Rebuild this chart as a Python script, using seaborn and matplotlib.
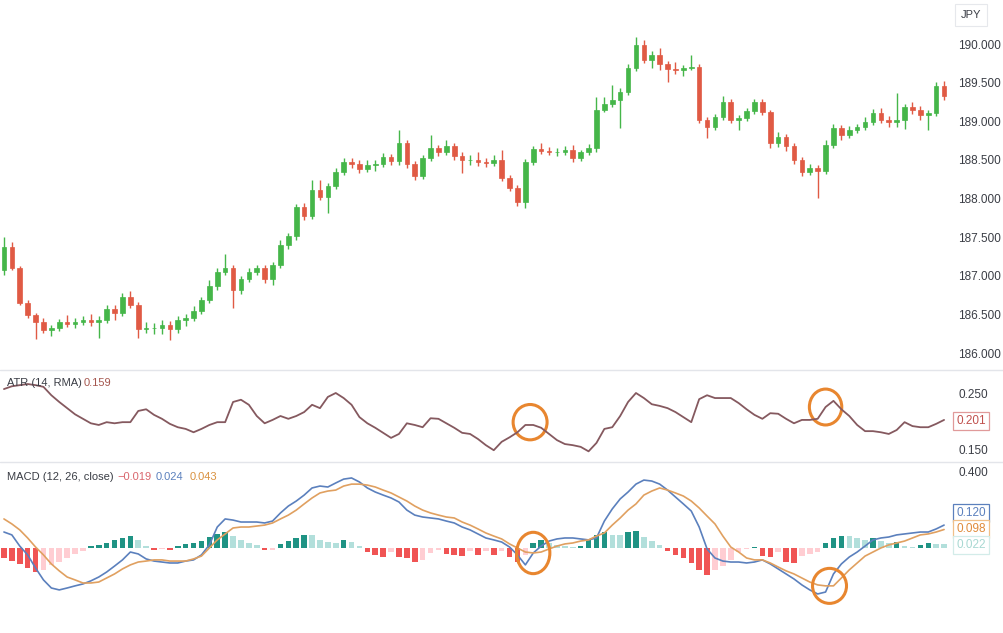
import numpy as np
import matplotlib
matplotlib.use("Agg")
import matplotlib.pyplot as plt
from matplotlib.patches import Ellipse
from matplotlib.lines import Line2D
import seaborn as sns

# price bars (JPY)
opens = [187.07, 187.37, 187.10, 186.65, 186.49, 186.40, 186.30, 186.32, 186.40, 186.37,
         186.40, 186.43, 186.40, 186.43, 186.57, 186.52, 186.72, 186.62, 186.31, 186.32,
         186.32, 186.36, 186.31, 186.43, 186.45, 186.54, 186.68, 186.87, 187.05, 187.10,
         186.81, 186.96, 187.05, 187.10, 186.96, 187.14, 187.40, 187.51, 187.89, 187.77,
         188.11, 188.02, 188.16, 188.34, 188.47, 188.45, 188.38, 188.43, 188.45, 188.54,
         188.48, 188.72, 188.45, 188.29, 188.52, 188.65, 188.60, 188.68, 188.55, 188.50,
         188.50, 188.47, 188.46, 188.50, 188.26, 188.13, 187.95, 188.47, 188.64, 188.61,
         188.60, 188.60, 188.63, 188.52, 188.60, 188.65, 189.15, 189.22, 189.27, 189.38,
         189.69, 189.99, 189.79, 189.86, 189.74, 189.68, 189.66, 189.69, 189.70, 189.02,
         188.93, 189.05, 189.25, 189.02, 189.04, 189.13, 189.25, 189.12, 188.72, 188.80,
         188.68, 188.50, 188.34, 188.39, 188.35, 188.69, 188.91, 188.82, 188.89, 188.93,
         188.99, 189.11, 189.02, 188.99, 189.02, 189.18, 189.15, 189.08, 189.11, 189.46]
closes = [187.37, 187.10, 186.65, 186.49, 186.40, 186.30, 186.32, 186.40, 186.37, 186.40,
          186.43, 186.40, 186.43, 186.57, 186.52, 186.72, 186.62, 186.31, 186.32, 186.32,
          186.36, 186.31, 186.43, 186.45, 186.54, 186.68, 186.87, 187.05, 187.10, 186.81,
          186.96, 187.05, 187.10, 186.96, 187.14, 187.40, 187.51, 187.89, 187.77, 188.11,
          188.02, 188.16, 188.34, 188.47, 188.45, 188.38, 188.43, 188.45, 188.54, 188.48,
          188.72, 188.45, 188.29, 188.52, 188.65, 188.60, 188.68, 188.55, 188.50, 188.50,
          188.47, 188.46, 188.50, 188.26, 188.13, 187.95, 188.47, 188.64, 188.61, 188.60,
          188.60, 188.63, 188.52, 188.60, 188.65, 189.15, 189.22, 189.27, 189.38, 189.69,
          189.99, 189.79, 189.86, 189.74, 189.68, 189.66, 189.69, 189.70, 189.02, 188.93,
          189.05, 189.25, 189.02, 189.04, 189.13, 189.25, 189.12, 188.72, 188.80, 188.68,
          188.50, 188.34, 188.39, 188.35, 188.69, 188.91, 188.82, 188.89, 188.93, 188.99,
          189.11, 189.02, 188.99, 189.02, 189.18, 189.15, 189.08, 189.11, 189.46, 189.33]
highs = [187.50, 187.44, 187.12, 186.68, 186.52, 186.45, 186.36, 186.44, 186.49, 186.45,
         186.48, 186.50, 186.48, 186.62, 186.62, 186.78, 186.80, 186.66, 186.40, 186.39,
         186.43, 186.41, 186.48, 186.50, 186.61, 186.72, 186.94, 187.10, 187.28, 187.14,
         187.00, 187.10, 187.14, 187.14, 187.18, 187.46, 187.56, 187.93, 187.94, 188.24,
         188.24, 188.20, 188.39, 188.52, 188.52, 188.50, 188.50, 188.50, 188.59, 188.58,
         188.89, 188.76, 188.48, 188.56, 188.82, 188.69, 188.76, 188.72, 188.60, 188.56,
         188.60, 188.52, 188.56, 188.63, 188.30, 188.17, 188.51, 188.68, 188.72, 188.67,
         188.65, 188.68, 188.69, 188.63, 188.70, 189.31, 189.31, 189.47, 189.43, 189.74,
         190.09, 190.05, 189.91, 189.95, 189.78, 189.77, 189.73, 189.86, 189.74, 189.05,
         189.09, 189.33, 189.29, 189.08, 189.17, 189.29, 189.29, 189.15, 188.86, 188.83,
         188.72, 188.54, 188.45, 188.43, 188.76, 188.96, 188.95, 188.94, 188.96, 189.05,
         189.16, 189.17, 189.07, 189.37, 189.22, 189.25, 189.20, 189.15, 189.51, 189.52]
lows = [187.01, 187.07, 186.62, 186.45, 186.18, 186.26, 186.22, 186.28, 186.34, 186.32,
        186.36, 186.35, 186.19, 186.39, 186.43, 186.48, 186.58, 186.19, 186.26, 186.24,
        186.24, 186.17, 186.26, 186.35, 186.41, 186.50, 186.65, 186.81, 187.01, 186.58,
        186.76, 186.92, 187.01, 186.90, 186.88, 187.10, 187.35, 187.46, 187.72, 187.73,
        187.98, 187.81, 188.12, 188.30, 188.39, 188.33, 188.34, 188.35, 188.41, 188.43,
        188.43, 188.39, 188.24, 188.25, 188.48, 188.55, 188.56, 188.50, 188.33, 188.43,
        188.42, 188.41, 188.42, 188.23, 188.10, 187.90, 187.88, 188.43, 188.58, 188.56,
        188.55, 188.56, 188.47, 188.48, 188.56, 188.60, 189.12, 189.18, 188.91, 189.34,
        189.65, 189.75, 189.69, 189.66, 189.51, 189.61, 189.59, 189.66, 188.98, 188.78,
        188.89, 189.02, 188.98, 188.89, 189.00, 189.09, 189.08, 188.65, 188.67, 188.61,
        188.45, 188.29, 188.30, 188.01, 188.32, 188.65, 188.76, 188.78, 188.85, 188.89,
        188.95, 188.98, 188.93, 188.93, 188.90, 189.09, 189.02, 188.89, 189.07, 189.27]

atr = [0.257, 0.262, 0.264, 0.266, 0.264, 0.261, 0.246, 0.234, 0.223, 0.212,
       0.204, 0.196, 0.193, 0.198, 0.196, 0.198, 0.198, 0.218, 0.221, 0.211,
       0.204, 0.195, 0.189, 0.186, 0.180, 0.186, 0.193, 0.198, 0.198, 0.234,
       0.238, 0.229, 0.209, 0.196, 0.202, 0.209, 0.204, 0.209, 0.216, 0.229,
       0.223, 0.243, 0.250, 0.241, 0.229, 0.207, 0.196, 0.188, 0.179, 0.170,
       0.177, 0.196, 0.193, 0.189, 0.205, 0.204, 0.196, 0.188, 0.179, 0.177,
       0.168, 0.157, 0.148, 0.163, 0.171, 0.180, 0.193, 0.193, 0.188, 0.177,
       0.166, 0.159, 0.157, 0.154, 0.146, 0.161, 0.186, 0.189, 0.209, 0.234,
       0.250, 0.241, 0.230, 0.227, 0.223, 0.216, 0.207, 0.198, 0.239, 0.246,
       0.241, 0.241, 0.241, 0.232, 0.221, 0.211, 0.204, 0.214, 0.213, 0.204,
       0.196, 0.202, 0.202, 0.204, 0.225, 0.236, 0.221, 0.209, 0.193, 0.182,
       0.182, 0.180, 0.177, 0.184, 0.198, 0.191, 0.189, 0.189, 0.195, 0.202]

macd = [0.083, 0.068, 0.010, -0.036, -0.104, -0.166, -0.208, -0.218, -0.208, -0.197,
        -0.187, -0.171, -0.151, -0.125, -0.094, -0.062, -0.021, -0.031, -0.057, -0.068,
        -0.073, -0.078, -0.078, -0.068, -0.062, -0.036, 0.016, 0.109, 0.151, 0.145,
        0.135, 0.135, 0.135, 0.130, 0.140, 0.182, 0.218, 0.244, 0.275, 0.312,
        0.322, 0.317, 0.338, 0.358, 0.364, 0.343, 0.312, 0.291, 0.275, 0.260,
        0.239, 0.197, 0.171, 0.161, 0.156, 0.151, 0.140, 0.130, 0.109, 0.094,
        0.073, 0.052, 0.042, 0.031, 0.005, -0.036, -0.088, -0.026, 0.010, 0.036,
        0.047, 0.052, 0.052, 0.047, 0.042, 0.052, 0.140, 0.203, 0.255, 0.291,
        0.332, 0.353, 0.348, 0.332, 0.301, 0.265, 0.229, 0.192, 0.109, -0.005,
        -0.052, -0.068, -0.073, -0.073, -0.078, -0.073, -0.062, -0.083, -0.109, -0.135,
        -0.161, -0.192, -0.218, -0.239, -0.229, -0.135, -0.083, -0.047, -0.021, 0.010,
        0.042, 0.052, 0.057, 0.068, 0.073, 0.078, 0.083, 0.083, 0.099, 0.119]
signal = [0.151, 0.125, 0.094, 0.052, 0.005, -0.036, -0.083, -0.119, -0.151, -0.166,
          -0.182, -0.182, -0.177, -0.156, -0.135, -0.109, -0.088, -0.073, -0.068, -0.062,
          -0.062, -0.068, -0.068, -0.068, -0.057, -0.042, 0.000, 0.042, 0.073, 0.104,
          0.109, 0.109, 0.114, 0.119, 0.130, 0.151, 0.171, 0.197, 0.229, 0.260,
          0.286, 0.296, 0.301, 0.322, 0.332, 0.332, 0.327, 0.317, 0.301, 0.286,
          0.265, 0.244, 0.218, 0.197, 0.182, 0.171, 0.161, 0.156, 0.135, 0.119,
          0.099, 0.078, 0.062, 0.047, 0.021, 0.000, -0.021, -0.026, -0.021, -0.005,
          0.010, 0.021, 0.026, 0.036, 0.042, 0.062, 0.078, 0.119, 0.156, 0.197,
          0.229, 0.275, 0.296, 0.312, 0.301, 0.286, 0.270, 0.244, 0.208, 0.166,
          0.125, 0.062, 0.005, -0.021, -0.052, -0.062, -0.062, -0.078, -0.099, -0.119,
          -0.135, -0.156, -0.177, -0.192, -0.197, -0.197, -0.156, -0.114, -0.078, -0.042,
          -0.021, 0.000, 0.016, 0.026, 0.036, 0.052, 0.068, 0.073, 0.083, 0.096]
hist = [-0.052, -0.068, -0.083, -0.104, -0.125, -0.114, -0.088, -0.073, -0.052, -0.031,
        -0.016, 0.010, 0.016, 0.026, 0.042, 0.052, 0.062, 0.042, 0.010, -0.010,
        -0.005, -0.010, 0.010, 0.021, 0.026, 0.036, 0.057, 0.073, 0.083, 0.062,
        0.042, 0.026, 0.016, -0.010, -0.010, 0.021, 0.036, 0.052, 0.068, 0.068,
        0.042, 0.031, 0.026, 0.042, 0.031, 0.010, -0.021, -0.036, -0.047, -0.021,
        -0.047, -0.052, -0.073, -0.062, -0.026, -0.010, -0.031, -0.036, -0.042, -0.016,
        -0.036, -0.016, -0.036, -0.016, -0.047, -0.073, -0.036, 0.026, 0.042, 0.026,
        0.016, 0.010, 0.005, 0.010, 0.042, 0.068, 0.083, 0.068, 0.068, 0.083,
        0.088, 0.057, 0.036, 0.016, -0.016, -0.036, -0.052, -0.078, -0.114, -0.140,
        -0.114, -0.094, -0.062, -0.021, -0.005, 0.005, -0.042, -0.047, -0.021, -0.073,
        -0.078, -0.042, -0.031, -0.021, 0.026, 0.052, 0.062, 0.062, 0.052, 0.042,
        0.052, 0.036, 0.026, 0.031, 0.010, 0.005, 0.016, 0.026, 0.021, 0.021]

price_ticks = [186.0, 186.5, 187.0, 187.5, 188.0, 188.5, 189.0, 189.5, 190.0]
atr_ticks = [0.15, 0.25]
macd_ticks = [0.4]
atr_legend = ["ATR (14, RMA)", "0.159"]
macd_legend = ["MACD (12, 26, close)", "\u22120.019", "0.024", "0.043"]
atr_box = "0.201"
macd_boxes = ["0.120", "0.098", "0.022"]

GREEN, RED = "#45b649", "#e05a44"
ATR_C = "#85595f"
BLUE, ORANGE = "#5b80bd", "#e0a060"
H_UP, H_UP_L, H_DN, H_DN_L = "#1f9384", "#b2dfdb", "#f05454", "#ffcdd2"
MARK = "#e8862f"
TXT = "#3a3d45"
W, H = 1004, 633

sns.set_theme(style="white")
plt.rcParams["font.family"] = ["Liberation Sans", "DejaVu Sans"]

fig = plt.figure(figsize=(W / 100, H / 100), dpi=100)
fig.patch.set_facecolor("white")


def frac(x, y):
    return x / W, 1 - y / H


pw = 950 / W
ax_p = fig.add_axes([0, 263 / H, pw, 370 / H])
ax_a = fig.add_axes([0, 171 / H, pw, 92 / H])
ax_m = fig.add_axes([0, 0, pw, 171 / H])

idx = np.arange(len(opens))
o, c = np.array(opens), np.array(closes)
cols = np.where(c >= o, GREEN, RED)
ax_p.vlines(idx, lows, highs, colors=cols, lw=1)
ax_p.bar(idx, c - o, bottom=o, width=0.58, color=cols, edgecolor=cols, linewidth=0.5)
ax_p.set_ylim(185.78, 190.57)
ax_p.set_yticks(price_ticks)
ax_p.set_yticklabels([f"{t:.3f}" for t in price_ticks])

sns.lineplot(x=idx, y=atr, ax=ax_a, color=ATR_C, linewidth=1.3, legend=False)
ax_a.set_ylim(0.127, 0.291)
ax_a.set_yticks(atr_ticks)
ax_a.set_yticklabels([f"{t:.3f}" for t in atr_ticks])

hv = np.array(hist)
prev = np.concatenate([[0.0], hv[:-1]])
hcols = np.where(hv >= 0, np.where(hv > prev, H_UP, H_UP_L),
                 np.where(hv < prev, H_DN, H_DN_L))
ax_m.bar(idx, hv, width=0.7, color=hcols, linewidth=0)
sns.lineplot(x=idx, y=macd, ax=ax_m, color=BLUE, linewidth=1.2, legend=False)
sns.lineplot(x=idx, y=signal, ax=ax_m, color=ORANGE, linewidth=1.2, legend=False)
ax_m.set_ylim(-0.442, 0.447)
ax_m.set_yticks(macd_ticks)
ax_m.set_yticklabels([f"{t:.3f}" for t in macd_ticks])

for ax in (ax_p, ax_a, ax_m):
    ax.set_xlim(-0.5, 119.75)
    ax.set_xticks([])
    ax.yaxis.tick_right()
    ax.tick_params(axis="y", length=0, pad=6, labelsize=8.5, labelcolor=TXT)
    ax.set_facecolor("white")
    for s in ax.spines.values():
        s.set_visible(False)
    ax.set_xlabel("")
    ax.set_ylabel("")

# highlighted turning points
ax_a.add_patch(Ellipse((66.6, atr[66] + 0.005), 4.3, 0.063, fill=False, ec=MARK, lw=2.2))
ax_a.add_patch(Ellipse((104, atr[104]), 4.1, 0.064, fill=False, ec=MARK, lw=2.2))
ax_m.add_patch(Ellipse((67, macd[67]), 4.2, 0.215, fill=False, ec=MARK, lw=2.2, zorder=5))
ax_m.add_patch(Ellipse((104.5, signal[104]), 4.3, 0.182, fill=False, ec=MARK, lw=2.2, zorder=5))

# pane separators
for yy in (370, 462):
    fig.add_artist(Line2D([0, 1], [1 - yy / H] * 2, color="#e3e5ea", lw=1))

# pane legends
fig.text(*frac(7, 383), atr_legend[0], fontsize=8, color=TXT, va="center")
fig.text(*frac(84, 383), atr_legend[1], fontsize=8, color="#a5574f", va="center")
fig.text(*frac(7, 477), macd_legend[0], fontsize=8, color=TXT, va="center")
for txt, xx, col in zip(macd_legend[1:], (117, 156, 190), ("#d9666d", BLUE, "#d9913f")):
    fig.text(*frac(xx, 477), txt, fontsize=8, color=col, va="center")


# last-value boxes on the scale
def tag(x, y, s, fg, edge):
    fig.text(*frac(x, y), s, fontsize=8.5, color=fg, ha="center", va="center",
             bbox=dict(boxstyle="square,pad=0.25", fc="white", ec=edge, lw=0.9))


tag(971, 421, atr_box, "#c0504d", "#e09a9a")
tag(971, 513, macd_boxes[0], BLUE, BLUE)
tag(971, 529, macd_boxes[1], "#e08a3a", "#f0c08a")
tag(971, 545, macd_boxes[2], "#a8d8d2", "#d3ece9")
fig.text(*frac(971, 15), "JPY", fontsize=8, color=TXT, ha="center", va="center",
         bbox=dict(boxstyle="square,pad=0.5", fc="white", ec="#e6e8ec", lw=0.8))

fig.savefig("out.png", dpi=100, facecolor="white")
